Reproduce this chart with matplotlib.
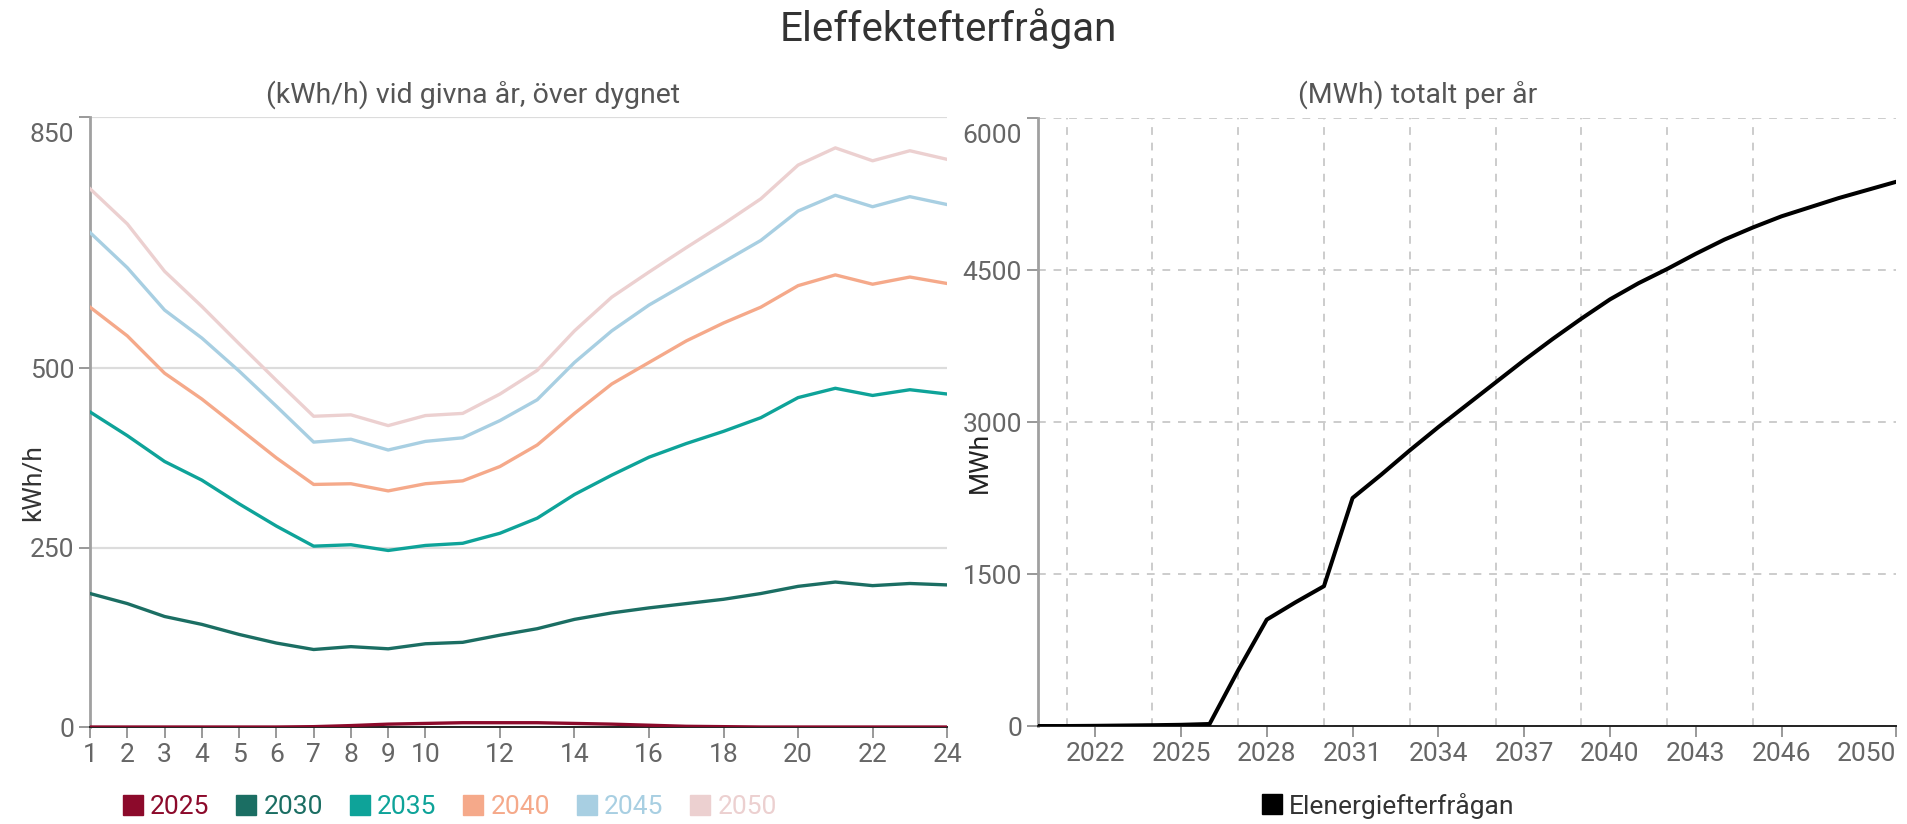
import matplotlib
matplotlib.use("Agg")
import matplotlib.pyplot as plt
from matplotlib.lines import Line2D
from matplotlib.transforms import ScaledTranslation

plt.rcParams['font.family'] = ['Roboto', 'DejaVu Sans']

# hourly demand per year (kWh/h), hours 1..24
hours = list(range(1, 25))
y2025 = [0, 0, 0, 0, 0, 0, 0.5, 2, 4, 5, 6, 6, 6, 5, 4, 2.5, 1, 0.5, 0, 0, 0, 0, 0, 0]
y2030 = [186, 172, 154, 143, 129, 117, 108, 112, 109, 116, 118, 128,
         137, 150, 159, 166, 172, 178, 186, 196, 202, 197, 200, 198]
y2035 = [439, 406, 370, 344, 311, 280, 252, 254, 246, 253, 256, 270,
         291, 324, 351, 376, 395, 412, 431, 459, 472, 462, 470, 464]
y2040 = [585, 545, 493, 457, 416, 375, 338, 339, 329, 339, 343, 363,
         393, 437, 478, 508, 538, 563, 585, 615, 630, 617, 627, 618]
y2045 = [689, 640, 581, 542, 496, 447, 397, 401, 386, 398, 403, 427,
         456, 508, 552, 588, 618, 648, 678, 719, 741, 725, 739, 728]
y2050 = [750, 701, 635, 586, 534, 483, 433, 435, 420, 434, 437, 464,
         497, 552, 599, 634, 668, 701, 736, 783, 807, 789, 803, 791]
year_labels = ['2025', '2030', '2035', '2040', '2045', '2050']
year_colors = ['#8c0a2b', '#1b6e63', '#0ea399', '#f5a98a', '#a8cfe2', '#ecd0d0']

# yearly total energy demand (MWh)
years = list(range(2020, 2051))
total_mwh = [0, 0, 2, 5, 8, 12, 20, 550, 1050, 1220, 1380, 2250, 2480, 2720, 2950,
             3170, 3390, 3610, 3820, 4020, 4210, 4370, 4510, 4660, 4800, 4920,
             5030, 5120, 5210, 5290, 5370]

hour_ticks = [1, 2, 3, 4, 5, 6, 7, 8, 9, 10, 12, 14, 16, 18, 20, 22, 24]
year_ticks = [2022, 2025, 2028, 2031, 2034, 2037, 2040, 2043, 2046, 2050]
year_grid = [2021, 2024, 2027, 2030, 2033, 2036, 2039, 2042, 2045, 2050]

tick_col = '#666666'
fig = plt.figure(figsize=(19.08, 8.24), dpi=100)
fig.text(0.497, 0.965, 'Eleffektefterfrågan', ha='center', va='center',
         fontsize=29, color='#333333')


def style_axis(ax):
    for s in ['top', 'right']:
        ax.spines[s].set_visible(False)
    ax.spines['left'].set_color('#a0a0a0')
    ax.spines['left'].set_linewidth(2)
    ax.spines['bottom'].set_color('#222222')
    ax.spines['bottom'].set_linewidth(1.4)
    ax.tick_params(colors='#888888', labelcolor=tick_col, labelsize=19, length=8, width=1.2)
    # top value label sits just under its gridline
    top = ax.get_yticklabels()[-1]
    top.set_va('top')
    top.set_transform(top.get_transform() + ScaledTranslation(0, -0.06, fig.dpi_scale_trans))


# left panel: demand over the day
ax1 = fig.add_axes([0.0472, 0.1177, 0.4492, 0.7403])
series = [y2025, y2030, y2035, y2040, y2045, y2050]
for vals, c in zip(series[::-1], year_colors[::-1]):
    ax1.plot(hours, vals, color=c, lw=2.4, solid_joinstyle='round', zorder=3)
ax1.set_xlim(1, 24)
ax1.set_ylim(0, 850)
ax1.set_xticks(hour_ticks)
ax1.set_yticks([0, 250, 500, 850])
ax1.grid(axis='y', color='#dcdcdc', lw=1.6)
ax1.set_axisbelow(True)
style_axis(ax1)
ax1.text(-0.066, 0.40, 'kWh/h', transform=ax1.transAxes, rotation=90,
         ha='center', va='center', fontsize=19, color='#333333')
fig.text(0.248, 0.885, '(kWh/h) vid givna år, över dygnet', ha='center', va='center',
         fontsize=20.5, color='#555555')

handles = [Line2D([], [], ls='', marker='s', markersize=14, color=c) for c in year_colors]
leg1 = ax1.legend(handles, year_labels, ncol=6, loc='center left',
                  bbox_to_anchor=(0.036, -0.131), frameon=False, fontsize=19,
                  borderaxespad=0, borderpad=0,
                  handletextpad=0.2, columnspacing=0.95, handlelength=0.9)
for t, c in zip(leg1.get_texts(), year_colors):
    t.set_color(c)

# right panel: total per year
ax2 = fig.add_axes([0.5440, 0.1189, 0.4497, 0.7379])
ax2.plot(years, total_mwh, color='black', lw=2.9, solid_joinstyle='round', zorder=3)
ax2.set_xlim(2020, 2050)
ax2.set_ylim(0, 6000)
ax2.set_xticks(year_ticks)
ax2.set_xticks(year_grid, minor=True)
ax2.set_yticks([0, 1500, 3000, 4500, 6000])
ax2.grid(axis='y', which='major', color='#cccccc', lw=1.4, ls=(0, (4, 4)))
ax2.grid(axis='x', which='minor', color='#cccccc', lw=1.4, ls=(0, (4, 4)))
ax2.set_axisbelow(True)
style_axis(ax2)
ax2.tick_params(axis='x', which='minor', length=0)
ax2.get_xticklabels()[-1].set_ha('right')
ax2.text(-0.068, 0.434, 'MWh', transform=ax2.transAxes, rotation=90,
         ha='center', va='center', fontsize=19, color='#222222')
fig.text(0.743, 0.885, '(MWh) totalt per år', ha='center', va='center',
         fontsize=20.5, color='#555555')

leg2 = ax2.legend([Line2D([], [], ls='', marker='s', markersize=14, color='black')],
                  ['Elenergiefterfrågan'], loc='center', bbox_to_anchor=(0.407, -0.131),
                  frameon=False, fontsize=19, borderaxespad=0, borderpad=0,
                  handletextpad=0.2, handlelength=0.9)
leg2.get_texts()[0].set_color('#333333')

fig.savefig('out.png', dpi=100)
